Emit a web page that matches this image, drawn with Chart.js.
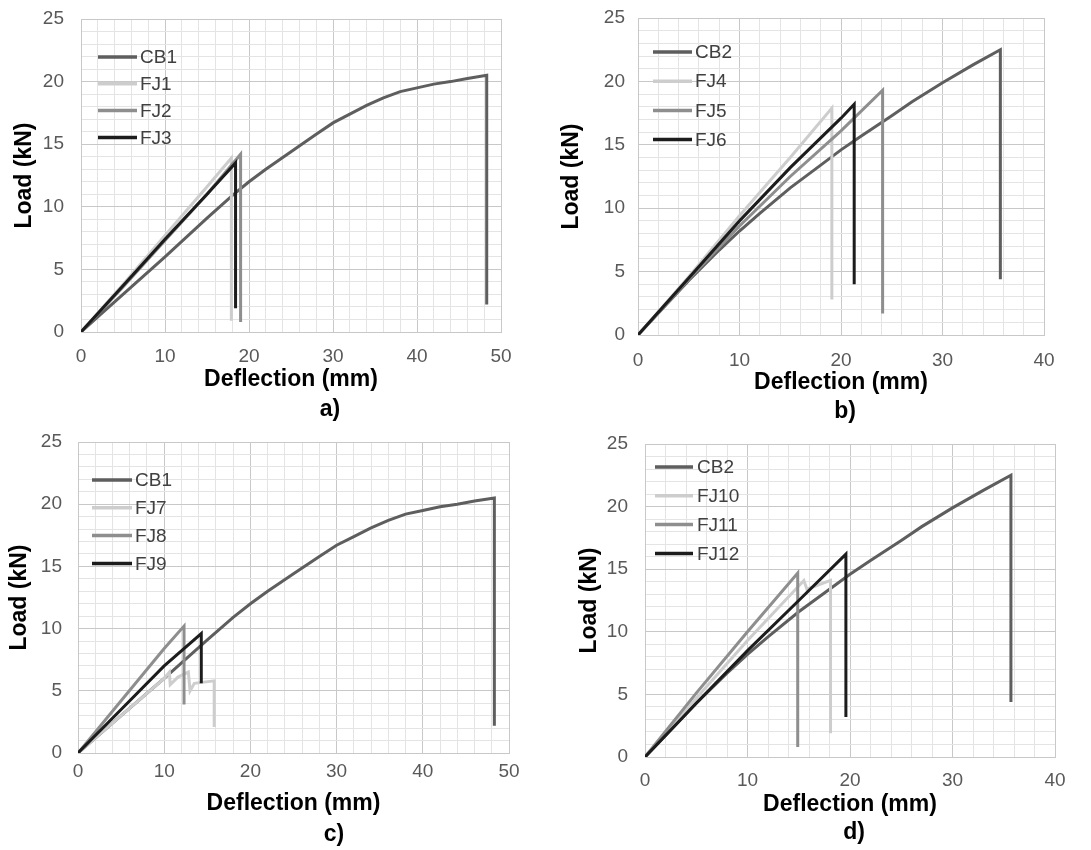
<!DOCTYPE html>
<html>
<head>
<meta charset="utf-8">
<script src="https://cdn.jsdelivr.net/npm/chart.js@4.4.1/dist/chart.umd.min.js"></script>
<style>
  body { margin:0; background:#fff; width:1091px; height:850px; position:relative; overflow:hidden; }
  canvas { position:absolute; }
  .tag { position:absolute; font:bold 23px "Liberation Sans", Arial, sans-serif; color:#000; transform:translate(-50%,-50%); }
</style>
</head>
<body>
<canvas id="pa" width="545" height="412" style="left:0;top:-12px"></canvas>
<canvas id="pb" width="546" height="412" style="left:545px;top:-12px"></canvas>
<canvas id="pc" width="545" height="415" style="left:0;top:410px"></canvas>
<canvas id="pd" width="546" height="415" style="left:545px;top:410px"></canvas>

<script>
// Data: [deflection mm, load kN]
const CB1 = [[0,0],[2,1.2],[5,3.0],[10,6.0],[15,9.1],[18,10.9],[20,12.0],[22,13.0],[25,14.4],[28,15.8],[30,16.7],[32,17.4],[34,18.1],[36,18.7],[38,19.2],[40,19.5],[42,19.8],[44,20.0],[46,20.25],[48.3,20.5],[48.3,2.2]];
const CB2 = [[0,0],[5,4.3],[8,6.7],[10,8.2],[12,9.6],[15,11.6],[18,13.4],[20,14.6],[22,15.7],[25,17.3],[27,18.4],[30,19.9],[33,21.3],[35.7,22.5],[35.7,4.4]];
const FJ1 = [[0,0],[5,3.8],[10,7.7],[15,11.6],[17.9,13.9],[17.9,0.9]];
const FJ2 = [[0,0],[5,3.6],[10,7.3],[15,11.0],[18,13.4],[19.0,14.2],[19.0,0.8]];
const FJ3 = [[0,0],[5,3.7],[10,7.4],[15,11.0],[18.4,13.5],[18.4,1.9]];
const FJ4 = [[0,0],[5,4.6],[10,9.4],[15,14.0],[19.1,17.9],[19.1,2.8]];
const FJ5 = [[0,0],[5,4.4],[10,8.6],[15,12.5],[20,16.1],[24.1,19.3],[24.1,1.7]];
const FJ6 = [[0,0],[5,4.5],[10,9.0],[15,13.2],[20,17.1],[21.3,18.2],[21.3,4.0]];
const FJ7 = [[0,0],[5,3.0],[10,6.0],[10.6,6.5],[10.7,5.5],[11.6,6.1],[12.8,6.5],[13.0,5.0],[13.5,5.6],[15.8,5.8],[15.8,2.1]];
const FJ8 = [[0,0],[5,4.2],[10,8.4],[12.3,10.2],[12.3,3.9]];
const FJ9 = [[0,0],[5,3.5],[10,7.0],[14.3,9.6],[14.3,5.6]];
const FJ10 = [[0,0],[5,4.7],[10,9.3],[15.5,14.1],[15.8,13.4],[18.1,14.1],[18.1,1.9]];
const FJ11 = [[0,0],[5,5.1],[10,10.0],[14.9,14.7],[14.9,0.8]];
const FJ12 = [[0,0],[5,4.3],[10,8.5],[15,12.5],[19.6,16.2],[19.6,3.2]];

const yMajor = [0, 5, 10, 15, 20, 25];
const xMajor50 = [0, 10, 20, 30, 40, 50];
const xMajor40 = [0, 10, 20, 30, 40];

// Styles
const COL = { cb:'#5e5e5e', light:'#cdcdcd', mid:'#8e8e8e', dark:'#1c1c1c' };
const GRID = { major:'#c8c8c8', minor:'#e4e4e4' };
const FONT = '"Liberation Sans", Arial, sans-serif';
const TICK_SIZE = 19, TITLE_SIZE = 23, LEG_SIZE = 19;

// Panels (absolute page coords for plot area etc.)
const PANELS = [
  { id:'pa', x0:0, y0:-12, L:81, R:501, T:19, B:332, xTicks:xMajor50, tag:['a)',330,408],
    series:[['CB1',CB1,COL.cb],['FJ1',FJ1,COL.light],['FJ2',FJ2,COL.mid],['FJ3',FJ3,COL.dark]],
    yTitleX:25, xTitleY:380, padX:13, padY:17, leg:{x1:98, x2:137, tx:140, y:57, step:26.8} },
  { id:'pb', x0:545, y0:-12, L:638, R:1044, T:18, B:335, xTicks:xMajor40, tag:['b)',845,410],
    series:[['CB2',CB2,COL.cb],['FJ4',FJ4,COL.light],['FJ5',FJ5,COL.mid],['FJ6',FJ6,COL.dark]],
    yTitleX:572, xTitleY:383, padX:14, padY:13, leg:{x1:653, x2:692, tx:695, y:52, step:29.2} },
  { id:'pc', x0:0, y0:410, L:78, R:509, T:442, B:753, xTicks:xMajor50, tag:['c)',334,833],
    series:[['CB1',CB1,COL.cb],['FJ7',FJ7,COL.light],['FJ8',FJ8,COL.mid],['FJ9',FJ9,COL.dark]],
    yTitleX:20, xTitleY:804, padX:7, padY:16, leg:{x1:92, x2:132, tx:135, y:480, step:27.8} },
  { id:'pd', x0:545, y0:410, L:645, R:1055, T:444, B:757, xTicks:xMajor40, tag:['d)',854,831],
    series:[['CB2',CB2,COL.cb],['FJ10',FJ10,COL.light],['FJ11',FJ11,COL.mid],['FJ12',FJ12,COL.dark]],
    yTitleX:590, xTitleY:805, padX:12, padY:17, leg:{x1:655, x2:693, tx:697, y:467, step:28.8} }
];

// legend drawn inside the plot area
const insideLegend = {
  id: 'insideLegend',
  afterDatasetsDraw(chart, args, o) {
    const ctx = chart.ctx;
    ctx.save();
    ctx.font = LEG_SIZE + 'px ' + FONT;
    ctx.textBaseline = 'middle';
    chart.data.datasets.forEach((ds, i) => {
      const y = o.y + i * o.step;
      ctx.strokeStyle = ds.borderColor;
      ctx.lineWidth = 3.5;
      ctx.beginPath(); ctx.moveTo(o.x1, y); ctx.lineTo(o.x2, y); ctx.stroke();
      ctx.fillStyle = '#404040';
      ctx.fillText(ds.label, o.tx, y + 1);
    });
    ctx.restore();
  }
};

const titleLH = TITLE_SIZE * 1.2;

PANELS.forEach(p => {
  const cv = document.getElementById(p.id);
  const W = cv.width, H = cv.height;
  const xMax = p.xTicks[p.xTicks.length - 1];

  new Chart(cv.getContext('2d'), {
    type: 'scatter',
    data: {
      datasets: p.series.map(([name, pts, c], i) => ({
        label: name,
        data: pts.map(([x, y]) => ({ x, y })),
        borderColor: c,
        backgroundColor: c,
        borderWidth: 3,
        showLine: true,
        pointRadius: 0,
        tension: 0,
        order: p.series.length - i
      }))
    },
    options: {
      responsive: false,
      animation: false,
      events: [],
      layout: { padding: { left: 0, right: p.x0 + W - p.R, top: p.T - p.y0, bottom: 0 } },
      plugins: {
        legend: { display: false },
        tooltip: { enabled: false },
        insideLegend: { x1: p.leg.x1 - p.x0, x2: p.leg.x2 - p.x0, tx: p.leg.tx - p.x0, y: p.leg.y - p.y0, step: p.leg.step }
      },
      scales: {
        x: {
          type: 'linear', min: 0, max: xMax,
          afterFit: s => { s.height = p.y0 + H - p.B; },
          ticks: {
            stepSize: 2, autoSkip: false, maxRotation: 0, minRotation: 0,
            padding: p.padX, color: '#595959', font: { family: FONT, size: TICK_SIZE },
            callback: v => p.xTicks.includes(v) ? String(v) : ''
          },
          grid: {
            drawTicks: false,
            color: c => (c.tick && c.tick.value % 10 === 0) ? GRID.major : GRID.minor
          },
          border: { color: GRID.major },
          title: {
            display: true, text: 'Deflection (mm)', color: '#000',
            font: { family: FONT, size: TITLE_SIZE, weight: 'bold' },
            padding: { top: 0, bottom: (p.y0 + H) - p.xTitleY - titleLH / 2 }
          }
        },
        y: {
          type: 'linear', min: 0, max: 25,
          afterFit: s => { s.width = p.L - p.x0; },
          ticks: {
            stepSize: 1, autoSkip: false,
            padding: p.padY, color: '#595959', font: { family: FONT, size: TICK_SIZE },
            callback: v => yMajor.includes(v) ? String(v) : ''
          },
          grid: {
            drawTicks: false,
            color: c => (c.tick && c.tick.value % 5 === 0) ? GRID.major : GRID.minor
          },
          border: { color: GRID.major },
          title: {
            display: true, text: 'Load (kN)', color: '#000',
            font: { family: FONT, size: TITLE_SIZE, weight: 'bold' },
            padding: { top: (p.yTitleX - p.x0) - titleLH / 2, bottom: 0 }
          }
        }
      }
    },
    plugins: [insideLegend]
  });

  const tag = document.createElement('div');
  tag.className = 'tag';
  tag.textContent = p.tag[0];
  tag.style.left = p.tag[1] + 'px';
  tag.style.top = p.tag[2] + 'px';
  document.body.appendChild(tag);
});
</script>
</body>
</html>
